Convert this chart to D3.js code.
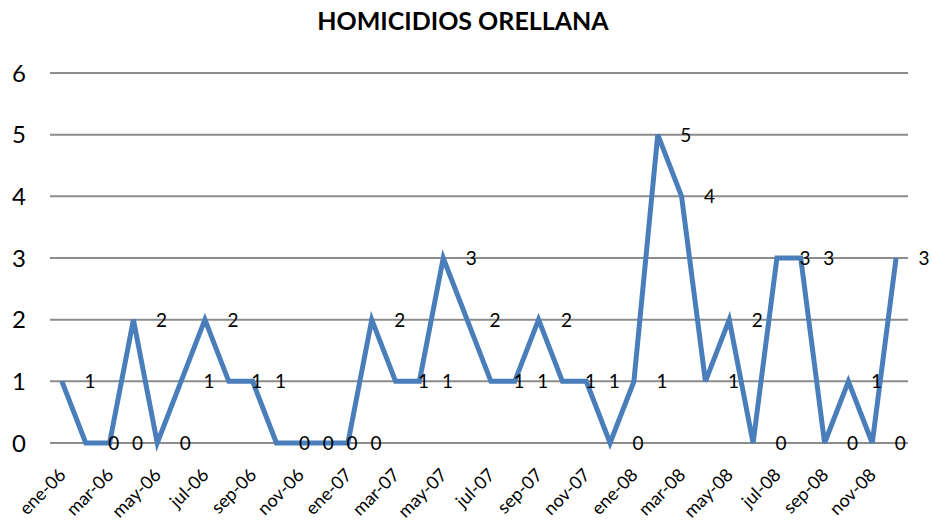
<!DOCTYPE html>
<html>
<head>
<meta charset="utf-8">
<script src="https://cdn.jsdelivr.net/npm/d3@7"></script>
<style>
  body { margin: 0; background: #fff; }
  svg { display: block; font-family: Lato, "Open Sans", sans-serif; }
</style>
</head>
<body>
<svg id="chart" width="932" height="523"></svg>
<script>
// months ene-06 .. dic-08
const MONTHS = ["ene", "feb", "mar", "abr", "may", "jun", "jul", "ago", "sep", "oct", "nov", "dic"];
const YEARS = ["06", "07", "08"];
const categories = YEARS.flatMap(y => MONTHS.map(m => m + "-" + y));
const homicidios = [1, 0, 0, 2, 0, 1, 2, 1, 1, 0, 0, 0,
                    0, 2, 1, 1, 3, 2, 1, 1, 2, 1, 1, 0,
                    1, 5, 4, 1, 2, 0, 3, 3, 0, 1, 0, 3];
const yTicks = [0, 1, 2, 3, 4, 5, 6];
const title = "HOMICIDIOS ORELLANA";

const MARGIN = { left: 50, right: 24, top: 73, bottom: 80 };
const WIDTH = 932, HEIGHT = 523;

const svg = d3.select("#chart");

const x = d3.scaleBand()
    .domain(categories)
    .range([MARGIN.left, WIDTH - MARGIN.right]);

const y = d3.scaleLinear()
    .domain([0, 6])
    .range([HEIGHT - MARGIN.bottom, MARGIN.top]);

const cx = d => x(d) + x.bandwidth() / 2;

// title
svg.append("text")
    .attr("x", 463)
    .attr("y", 30)
    .attr("text-anchor", "middle")
    .attr("font-weight", "bold")
    .attr("font-size", 25)
    .text(title);

// horizontal gridlines
svg.append("g")
    .selectAll("line")
    .data(yTicks)
    .join("line")
    .attr("x1", MARGIN.left)
    .attr("x2", WIDTH - MARGIN.right)
    .attr("y1", d => y(d))
    .attr("y2", d => y(d))
    .attr("stroke", "#8c8c8c")
    .attr("stroke-width", 2);

// y axis labels
svg.append("g")
    .selectAll("text")
    .data(yTicks)
    .join("text")
    .attr("x", 26)
    .attr("y", d => y(d))
    .attr("dy", "0.36em")
    .attr("text-anchor", "end")
    .attr("font-size", 24)
    .text(d => d);

// x axis labels, every other month
svg.append("g")
    .selectAll("text")
    .data(categories.filter((d, i) => i % 2 === 0))
    .join("text")
    .attr("text-anchor", "end")
    .attr("font-size", 18)
    .attr("transform", d => `translate(${cx(d) + 5},${y(0) + 33}) rotate(-45)`)
    .text(d => d);

// the line
const line = d3.line()
    .x((d, i) => cx(categories[i]))
    .y(d => y(d));

svg.append("path")
    .datum(homicidios)
    .attr("fill", "none")
    .attr("stroke", "#4a7ebb")
    .attr("stroke-width", 5)
    .attr("stroke-linejoin", "miter")
    .attr("d", line);

// data labels, to the right of each point
svg.append("g")
    .selectAll("text")
    .data(homicidios)
    .join("text")
    .attr("x", (d, i) => cx(categories[i]) + 28)
    .attr("y", d => y(d))
    .attr("dy", "0.36em")
    .attr("text-anchor", "middle")
    .attr("font-size", 19)
    .text(d => d);
</script>
</body>
</html>
